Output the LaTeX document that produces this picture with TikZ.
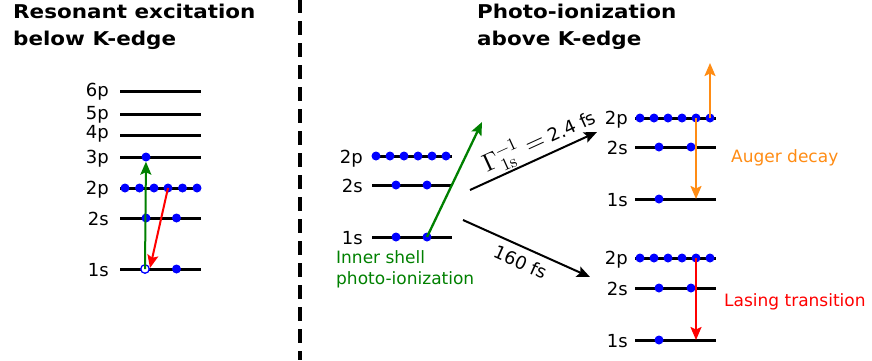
\documentclass[tikz,border=0pt]{standalone}
\usepackage{fontspec}
\usepackage{unicode-math}
\setmainfont{DejaVu Sans}
\newfontfamily\headfont[FakeStretch=1.13]{DejaVu Sans}
\usetikzlibrary{arrows.meta}
\definecolor{elblue}{RGB}{0,0,255}
\definecolor{ionisegreen}{RGB}{0,128,0}
\definecolor{augerorange}{RGB}{255,140,20}
\definecolor{laserred}{RGB}{255,0,0}

\begin{document}
\begin{tikzpicture}[x=1pt, y=-1pt,
  level/.style={line width=3pt},
  lab/.style={anchor=east, inner sep=0pt, text height=13pt, text depth=0pt, font=\fontsize{18}{20}\selectfont},
  el/.style={circle, fill=elblue, inner sep=0pt, minimum size=9pt},
  hole/.style={circle, draw=elblue, fill=white, line width=1.3pt, inner sep=0pt, minimum size=8.5pt},
  title/.style={anchor=north west, align=left, inner sep=0pt, font=\headfont\bfseries\fontsize{19}{27}\selectfont},
  note/.style={inner sep=0pt, align=left, font=\fontsize{17}{21}\selectfont},
  arr/.style={-{Stealth[length=13pt, width=11pt, inset=2.5pt]}, line width=2pt},
  divider/.style={line width=3.5pt, dash pattern=on 14pt off 8pt}
]
  \useasboundingbox (0,0) rectangle (872,360);

  \node[title] (restitle) at (13,3.5) {Resonant excitation\\below K-edge};
  \node[title] (iontitle) at (477,3.5) {Photo-ionization\\above K-edge};

  \coordinate (divtop) at (300,-1);
  \coordinate (divbot) at (300,360);
  \draw[divider] (divtop) -- (divbot);

  % resonant excitation
  \foreach \n/\y/\ty in {6p/91/90,5p/114/113,4p/135/132,3p/157/157,2p/188/188,2s/218/219,1s/269/270}{
    \coordinate (res\n-l) at (120,\y);
    \coordinate (res\n-r) at (201,\y);
    \draw[level] (res\n-l) -- (res\n-r);
    \node[lab] (res\n-t) at (109,\ty) {\n};
  }
  \node[el] (res3p-1) at (146,157) {};
  \foreach \x [count=\i] in {125,139.5,154,168,182.5,197}
    \node[el] (res2p-\i) at (\x,188) {};
  \node[el] (res2s-1) at (146,218) {};
  \node[el] (res2s-2) at (176.5,218) {};
  \node[hole] (res1s-1) at (145,269) {};
  \node[el] (res1s-2) at (176.5,269) {};
  \coordinate (resdecay) at (150,268);
  \draw[arr, ionisegreen] (res1s-1.center) -- (res3p-1);
  \draw[arr, laserred] (res2p-4.center) -- (resdecay);

  % photo-ionization
  \foreach \n/\y/\ty in {2p/156/157,2s/185/186,1s/237/238}{
    \coordinate (ion\n-l) at (372,\y);
    \coordinate (ion\n-r) at (452,\y);
    \draw[level] (ion\n-l) -- (ion\n-r);
    \node[lab] (ion\n-t) at (363,\ty) {\n};
  }
  \foreach \x [count=\i] in {376,390,404,418,432,446}
    \node[el] (ion2p-\i) at (\x,156) {};
  \node[el] (ion2s-1) at (396,185) {};
  \node[el] (ion2s-2) at (427,185) {};
  \node[el] (ion1s-1) at (396,237) {};
  \node[el] (ion1s-2) at (427,237) {};
  \coordinate (ionout) at (482,122);
  \draw[arr, ionisegreen, line width=2.3pt] (ion1s-2.center) -- (ionout);
  \node[note, text=ionisegreen, anchor=north west] (ionnote) at (336,250) {Inner shell\\photo-ionization};

  % Auger decay
  \foreach \n/\y/\ty in {2p/118/118,2s/147/148,1s/199/200}{
    \coordinate (aug\n-l) at (635,\y);
    \coordinate (aug\n-r) at (716,\y);
    \draw[level] (aug\n-l) -- (aug\n-r);
    \node[lab] (aug\n-t) at (628,\ty) {\n};
  }
  \foreach \x [count=\i] in {640,654,668,682,696,710}
    \node[el] (aug2p-\i) at (\x,118) {};
  \node[el] (aug2s-1) at (659,147) {};
  \node[el] (aug2s-2) at (691,147) {};
  \node[el] (aug1s-1) at (659,199) {};
  \coordinate (augout) at (710,63);
  \coordinate (augfill) at (696,199);
  \draw[arr, augerorange] (aug2p-6.center) -- (augout);
  \draw[arr, augerorange] (aug2p-5.center) -- (augfill);
  \node[note, text=augerorange, anchor=base west] (augnote) at (731,162.5) {Auger decay};

  % lasing
  \foreach \n/\y/\ty in {2p/258/258,2s/288/289,1s/340/341}{
    \coordinate (las\n-l) at (635,\y);
    \coordinate (las\n-r) at (716,\y);
    \draw[level] (las\n-l) -- (las\n-r);
    \node[lab] (las\n-t) at (628,\ty) {\n};
  }
  \foreach \x [count=\i] in {640,654,668,682,696,710}
    \node[el] (las2p-\i) at (\x,258) {};
  \node[el] (las2s-1) at (659,288) {};
  \node[el] (las2s-2) at (691,288) {};
  \node[el] (las1s-1) at (659,340) {};
  \coordinate (lasfill) at (696,340);
  \draw[arr, laserred] (las2p-5.center) -- (lasfill);
  \node[note, text=laserred, anchor=base west] (lasnote) at (724,306) {Lasing transition};

  % branching
  \coordinate (augfrom) at (470,190);
  \coordinate (augto) at (597,132);
  \coordinate (lasfrom) at (463,220);
  \coordinate (lasto) at (590,277);
  \draw[arr] (augfrom) -- node[sloped, above, pos=0.6, inner sep=1pt, font=\fontsize{18}{20}\selectfont] (auglife) {{\fontsize{25}{27}\selectfont$\Gamma^{-1}_{\symup{1s}} =$} 2.4 fs} (augto);
  \draw[arr] (lasfrom) -- node[sloped, below, pos=0.5, inner sep=7pt, font=\fontsize{18}{20}\selectfont] (laslife) {160 fs} (lasto);
\end{tikzpicture}
\end{document}
